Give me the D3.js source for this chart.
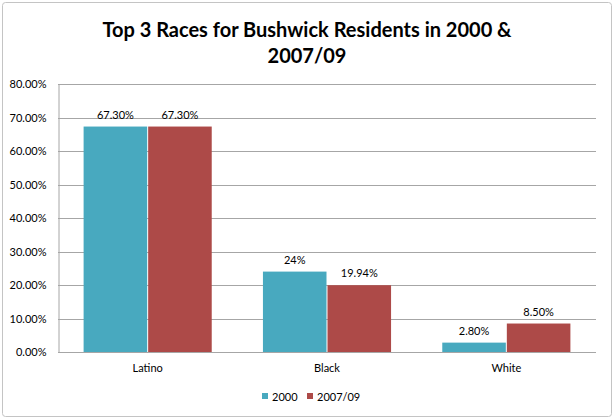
<!DOCTYPE html>
<html>
<head>
<meta charset="utf-8">
<script src="https://cdn.jsdelivr.net/npm/d3@7"></script>
<style>
  body { margin: 0; background: #fff; }
  svg text { font-family: Lato, "Open Sans", sans-serif; fill: #000; }
</style>
</head>
<body>
<svg id="chart" width="615" height="420"></svg>
<script>
const races = ["Latino", "Black", "White"]
const series = ["2000", "2007/09"]
const values2000 = [67.3, 24, 2.8]
const values2009 = [67.3, 19.94, 8.5]
const labels2000 = ["67.30%", "24%", "2.80%"]
const labels2009 = ["67.30%", "19.94%", "8.50%"]
const yTicks = [0, 10, 20, 30, 40, 50, 60, 70, 80]

const colors = { "2000": "#48a9bf", "2007/09": "#ad4a48" }

const rows = races.map((r, i) => ({
  race: r,
  bars: [
    { key: "2000", value: values2000[i], label: labels2000[i] },
    { key: "2007/09", value: values2009[i], label: labels2009[i] }
  ]
}))

const svg = d3.select("#chart")

// outer frame
svg.append("rect")
  .attr("x", 2.5).attr("y", 2.5)
  .attr("width", 609).attr("height", 414)
  .attr("rx", 3)
  .attr("fill", "#fff")
  .attr("stroke", "#c4c4c4")

const plotLeft = 58, plotRight = 596, plotTop = 84, plotBottom = 352

const x0 = d3.scaleBand()
  .domain(races)
  .range([plotLeft, plotRight])
  .paddingInner(0.28)
  .paddingOuter(0.14)

const x1 = d3.scaleBand()
  .domain(series)
  .range([0, x0.bandwidth()])

const y = d3.scaleLinear()
  .domain([0, 80])
  .range([plotBottom, plotTop])

// gridlines
svg.append("g")
  .selectAll("line")
  .data(yTicks)
  .join("line")
  .attr("x1", plotLeft).attr("x2", plotRight)
  .attr("y1", d => Math.round(y(d)) + 0.5)
  .attr("y2", d => Math.round(y(d)) + 0.5)
  .attr("stroke", "#a6a6a6")

// y axis
const yAxis = svg.append("g")
  .attr("transform", `translate(${plotLeft + 0.5},0)`)
  .call(d3.axisLeft(y).tickValues(yTicks).tickSize(0).tickPadding(12)
    .tickFormat(d => d.toFixed(2) + "%"))
yAxis.select(".domain").attr("stroke", "#a6a6a6")
yAxis.selectAll("text")
  .style("font-size", "11px")
  .style("font-family", "Lato, sans-serif")

// bars
const groups = svg.append("g")
  .selectAll("g")
  .data(rows)
  .join("g")
  .attr("transform", d => `translate(${x0(d.race)},0)`)

groups.selectAll("rect")
  .data(d => d.bars)
  .join("rect")
  .attr("x", d => x1(d.key) + 0.5)
  .attr("width", x1.bandwidth() - 1)
  .attr("y", d => y(d.value))
  .attr("height", d => y(0) - y(d.value))
  .attr("fill", d => colors[d.key])

groups.selectAll("text")
  .data(d => d.bars)
  .join("text")
  .attr("x", d => x1(d.key) + x1.bandwidth() / 2)
  .attr("y", d => y(d.value) - 8)
  .attr("text-anchor", "middle")
  .style("font-size", "11px")
  .text(d => d.label)

// x axis line and labels
svg.append("line")
  .attr("x1", plotLeft).attr("x2", plotRight)
  .attr("y1", plotBottom + 0.5).attr("y2", plotBottom + 0.5)
  .attr("stroke", "#a6a6a6")

svg.append("g")
  .selectAll("text")
  .data(races)
  .join("text")
  .attr("x", d => x0(d) + x0.bandwidth() / 2)
  .attr("y", 372)
  .attr("text-anchor", "middle")
  .style("font-size", "11px")
  .text(d => d)

// title
svg.append("text")
  .attr("x", 307).attr("y", 37)
  .attr("text-anchor", "middle")
  .style("font-size", "20px").style("font-weight", "bold")
  .text("Top 3 Races for Bushwick Residents in 2000 &")
svg.append("text")
  .attr("x", 307).attr("y", 63)
  .attr("text-anchor", "middle")
  .style("font-size", "20px").style("font-weight", "bold")
  .text("2007/09")

// legend
const legend = svg.append("g")
  .selectAll("g")
  .data(series)
  .join("g")
  .attr("transform", (d, i) => `translate(${[262, 307][i]},393)`)
legend.append("rect")
  .attr("width", 6).attr("height", 6)
  .attr("fill", d => colors[d])
legend.append("text")
  .attr("x", 10).attr("y", 8)
  .style("font-size", "11px")
  .text(d => d)
</script>
</body>
</html>
